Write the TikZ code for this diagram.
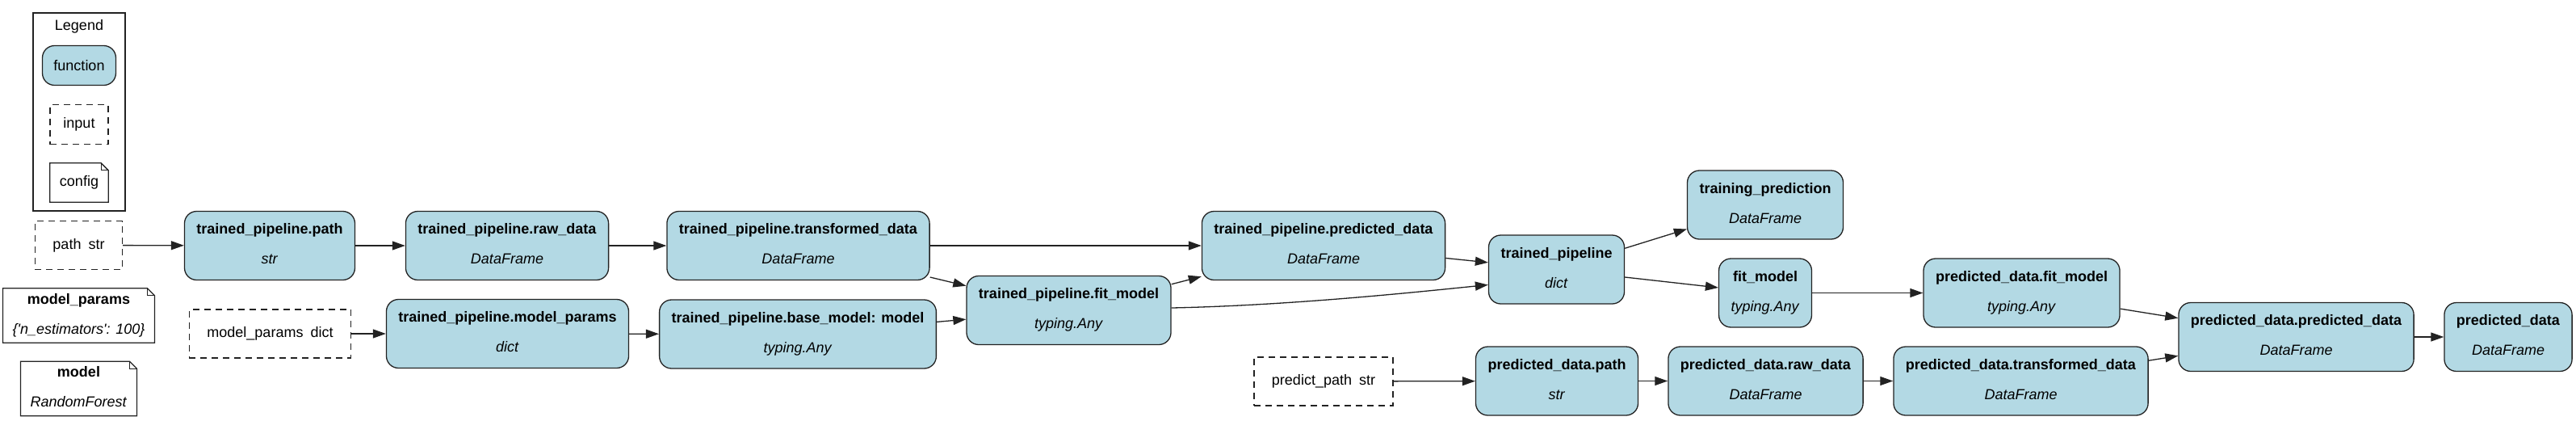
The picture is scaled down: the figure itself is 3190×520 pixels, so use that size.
\documentclass[tikz,border=0pt]{standalone}
\usepackage{fontspec}
\setmainfont{Liberation Sans}
\usetikzlibrary{arrows.meta}
\definecolor{fnblue}{HTML}{B3D9E4}
\definecolor{edgegray}{HTML}{222222}
\newcommand{\fnlabel}[2]{\strut\textbf{#1}\\[16pt]\strut\textit{#2}}

\begin{document}
\begin{tikzpicture}[
        x=1pt, y=-1pt,
        every node/.style={font=\fontsize{18}{21}\selectfont, align=center},
        fn/.style={draw=edgegray, fill=fnblue, rounded corners=15pt, line width=1.3pt, inner xsep=15pt, minimum height=85pt},
        inp/.style={draw=edgegray, dash pattern=on 8pt off 6pt, line width=1.3pt, inner xsep=22pt, minimum height=60pt},
        cfg/.style={inner xsep=12pt, inner ysep=4pt, minimum height=67pt},
        edge/.style={draw=edgegray, line width=1.3pt, -{Triangle[length=16pt,width=11pt]}},
    ]
    \useasboundingbox (0,0) rectangle (3190,520);

    \node[draw=edgegray, line width=1.2pt, minimum width=114pt, minimum height=245pt] (legend) at (98,138.5) {};
    \node (legendtitle) at (98,33) {Legend};
    \node[fn, inner xsep=0pt, minimum width=91pt, minimum height=49pt] (fnleg) at (98,81) {function};
    \node[inp, inner xsep=0pt, minimum width=72pt, minimum height=49pt] (inleg) at (98,154) {input};
    \node[cfg, inner xsep=0pt, minimum width=72pt, minimum height=48pt] (cfgleg) at (98,226) {config};

    \node[inp] (pathstr) at (97.5,303.5) {path\enspace str};
    \node[cfg] (mparams) at (97.5,390.5) {\fnlabel{model\_params}{\{\textquotesingle n\_estimators\textquotesingle: 100\}}};
    \node[cfg] (mdl) at (97.5,481) {\fnlabel{model}{RandomForest}};
    \node[inp] (mpdict) at (334.5,413) {model\_params\enspace dict};
    \node[inp] (predpath) at (1639,472) {predict\_path\enspace str};

    \node[fn] (tppath) at (334,304) {\fnlabel{trained\_pipeline.path}{str}};
    \node[fn] (tpraw) at (628,304) {\fnlabel{trained\_pipeline.raw\_data}{DataFrame}};
    \node[fn] (tpmparams) at (628.5,413) {\fnlabel{trained\_pipeline.model\_params}{dict}};
    \node[fn] (tptrans) at (988.5,304) {\fnlabel{trained\_pipeline.transformed\_data}{DataFrame}};
    \node[fn] (tpbase) at (988,413.5) {\fnlabel{trained\_pipeline.base\_model: model}{typing.Any}};
    \node[fn] (tpfit) at (1323.5,384) {\fnlabel{trained\_pipeline.fit\_model}{typing.Any}};
    \node[fn] (tppred) at (1639,304) {\fnlabel{trained\_pipeline.predicted\_data}{DataFrame}};
    \node[fn] (tp) at (1927.5,333.5) {\fnlabel{trained\_pipeline}{dict}};
    \node[fn] (trainpred) at (2186,253.5) {\fnlabel{training\_prediction}{DataFrame}};
    \node[fn] (fit) at (2186,362.5) {\fnlabel{fit\_model}{typing.Any}};
    \node[fn] (pdpath) at (1928,471.5) {\fnlabel{predicted\_data.path}{str}};
    \node[fn] (pdraw) at (2186.5,471.5) {\fnlabel{predicted\_data.raw\_data}{DataFrame}};
    \node[fn] (pdfit) at (2503.5,362.5) {\fnlabel{predicted\_data.fit\_model}{typing.Any}};
    \node[fn] (pdtrans) at (2502.5,471.5) {\fnlabel{predicted\_data.transformed\_data}{DataFrame}};
    \node[fn] (pdpred) at (2843.5,417) {\fnlabel{predicted\_data.predicted\_data}{DataFrame}};
    \node[fn] (pdout) at (3106,417) {\fnlabel{predicted\_data}{DataFrame}};

    \foreach \n in {cfgleg, mparams, mdl} {
        \draw[edgegray, line width=1.3pt] (\n.south west) -- (\n.north west) -- ([xshift=-9pt]\n.north east)
            -- ([yshift=-9pt]\n.north east) -- (\n.south east) -- cycle;
        \draw[edgegray, line width=1.3pt] ([xshift=-9pt]\n.north east) |- ([yshift=-9pt]\n.north east);
    }

    \draw[edge] (pathstr) -- (tppath);
    \draw[edge] (tppath) -- (tpraw);
    \draw[edge] (tpraw) -- (tptrans);
    \draw[edge] (tptrans) -- (tppred);
    \draw[edge] (tptrans) -- (tpfit);
    \draw[edge] (mpdict) -- (tpmparams);
    \draw[edge] (tpmparams) -- (tpbase);
    \draw[edge] (tpbase) -- (tpfit);
    \draw[edge] (tpfit) -- (tppred);
    \draw[edge] ([yshift=3pt]tpfit.east) .. controls +(150,-3) and +(-80,8) .. ([yshift=-19pt]tp.west);
    \draw[edge] (tppred) -- (tp);
    \draw[edge] (tp) -- (trainpred);
    \draw[edge] (tp) -- (fit);
    \draw[edge] (fit) -- (pdfit);
    \draw[edge] (predpath) -- (pdpath);
    \draw[edge] (pdpath) -- (pdraw);
    \draw[edge] (pdraw) -- (pdtrans);
    \draw[edge] (pdtrans) -- (pdpred);
    \draw[edge] (pdfit) -- (pdpred);
    \draw[edge] (pdpred) -- (pdout);
\end{tikzpicture}
\end{document}
